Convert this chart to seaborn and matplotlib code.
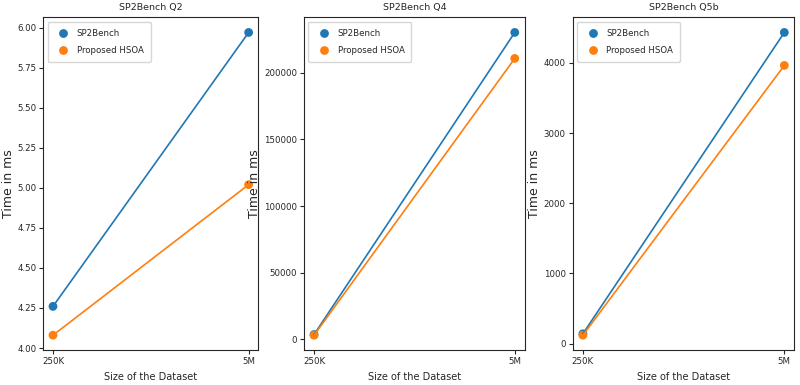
import pandas as pd
import seaborn as sns
import matplotlib.pyplot as plt

sizes = ["250K", "5M"]
methods = ["SP2Bench", "Proposed HSOA"]
titles = ["SP2Bench Q2", "SP2Bench Q4", "SP2Bench Q5b"]

q2_sp2bench = [4.26, 5.97]
q2_hsoa = [4.08, 5.02]
q4_sp2bench = [3500, 230300]
q4_hsoa = [3000, 210800]
q5b_sp2bench = [140, 4435]
q5b_hsoa = [120, 3965]

panels = [
    (q2_sp2bench, q2_hsoa),
    (q4_sp2bench, q4_hsoa),
    (q5b_sp2bench, q5b_hsoa),
]

sns.set_style("ticks")
plt.rcParams['font.family'] = ['DejaVu Sans']
small = 6.2

fig = plt.figure(figsize=(8, 3.85), dpi=100)
lefts = [0.054, 0.380, 0.716]
widths = [0.269, 0.276, 0.277]

for i, (sp, hs) in enumerate(panels):
    ax = fig.add_axes([lefts[i], 0.09, widths[i], 0.865])
    rows = []
    for s, v in zip(sizes, sp):
        rows.append([s, v, methods[0]])
    for s, v in zip(sizes, hs):
        rows.append([s, v, methods[1]])
    df = pd.DataFrame(rows, columns=["size", "time", "method"])
    pal = ["#1f77b4", "#ff7f0e"]
    sns.lineplot(data=df, x="size", y="time", hue="method", palette=pal,
                 legend=False, lw=1.2, ax=ax)
    sns.scatterplot(data=df, x="size", y="time", hue="method", palette=pal,
                    s=40, edgecolor="none", ax=ax)
    ax.set_title(titles[i], fontsize=small + 0.6, pad=5)
    ax.set_xlabel("Size of the Dataset", fontsize=small + 0.8)
    ax.set_ylabel("Time in ms", fontsize=9, labelpad=2)
    if i == 0:
        ax.yaxis.set_label_coords(-0.13, 0.5)
    ax.tick_params(labelsize=small, length=3, pad=2)
    ax.margins(x=0.05)
    ax.legend(loc="upper left", fontsize=small, frameon=True, title=None,
              handletextpad=0.6, borderpad=0.8, labelspacing=1.0)

plt.savefig("out.png", dpi=100)
